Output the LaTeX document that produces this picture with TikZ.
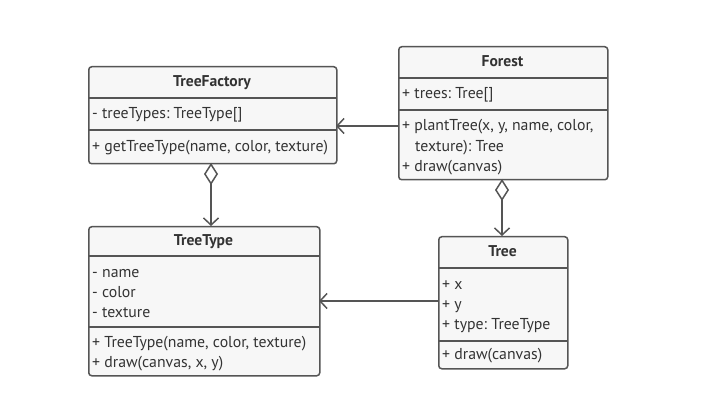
\documentclass[tikz,border=0pt]{standalone}
\usepackage{fontspec}
\setmainfont{PT Sans}
\frenchspacing
\usetikzlibrary{arrows.meta}
\definecolor{ln}{HTML}{555555}
\definecolor{tx}{HTML}{333333}
\definecolor{bx}{HTML}{F7F7F7}
\begin{document}
\begin{tikzpicture}[x=1pt,y=-1pt,
  classbox/.style={draw=ln,fill=bx,line width=1.5pt,rounded corners=3pt,anchor=north west,inner sep=0pt},
  divider/.style={draw=ln,line width=1.5pt},
  hdr/.style={anchor=base,inner sep=0pt,text=tx,font=\fontsize{15.6}{18}\selectfont\bfseries},
  row/.style={anchor=base west,inner sep=0pt,text=tx,font=\fontsize{15.8}{18}\selectfont},
  conn/.style={draw=ln,line width=1.5pt},
  assoc/.style={conn,-{Straight Barb[length=7pt,width=15pt,line width=1.5pt]}},
  aggr/.style={conn,{Diamond[fill=white,length=22pt,width=14pt,line width=1.5pt]}-{Straight Barb[length=7pt,width=15pt,line width=1.5pt]}}
]
\useasboundingbox (0,0) rectangle (727,419);
\fill[white] (0,0) rectangle (727,419);

% TreeFactory
\node[classbox,minimum width=248pt,minimum height=97pt] (tf) at (88,66) {};
\draw[divider] (88,98) -- (336,98);
\draw[divider] (88,130) -- (336,130);
\node[hdr] (tfh) at (212,87) {TreeFactory};
\node[row] (tf1) at (92,119) {- treeTypes: TreeType[]};
\node[row] (tf2) at (92,152) {+ getTreeType(name, color, texture)};

% Forest
\node[classbox,minimum width=209pt,minimum height=133pt] (fo) at (398,46) {};
\draw[divider] (398,78) -- (607,78);
\draw[divider] (398,110) -- (607,110);
\node[hdr] (foh) at (502.5,67) {Forest};
\node[row] (fo1) at (402,99) {+ trees: Tree[]};
\node[row] (fo2) at (402,131) {+ plantTree(x, y, name, color,};
\node[row] (fo3) at (415,152) {texture): Tree};
\node[row] (fo4) at (402,172) {+ draw(canvas)};

% TreeType
\node[classbox,minimum width=231pt,minimum height=149pt] (tt) at (88,226) {};
\draw[divider] (88,256) -- (319,256);
\draw[divider] (88,327) -- (319,327);
\node[hdr] (tth) at (203.5,246) {TreeType};
\node[row] (tt1) at (92,277) {- name};
\node[row] (tt2) at (92,297) {- color};
\node[row] (tt3) at (92,317) {- texture};
\node[row] (tt4) at (92,347) {+ TreeType(name, color, texture)};
\node[row] (tt5) at (92,367) {+ draw(canvas, x, y)};

% Tree
\node[classbox,minimum width=129pt,minimum height=132pt] (tr) at (438,236) {};
\draw[divider] (438,268) -- (567,268);
\draw[divider] (438,341) -- (567,341);
\node[hdr] (trh) at (502.5,257) {Tree};
\node[row] (tr1) at (442,289) {+ x};
\node[row] (tr2) at (442,309) {+ y};
\node[row] (tr3) at (442,329) {+ type: TreeType};
\node[row] (tr4) at (442,359) {+ draw(canvas)};

% connectors
\coordinate (fol) at (398,126);
\coordinate (tfr) at (336,126);
\draw[assoc] (fol) -- (tfr);
\coordinate (tfb) at (211,163);
\coordinate (ttt) at (211,226);
\draw[aggr] (tfb) -- (ttt);
\coordinate (fob) at (502,179);
\coordinate (trt) at (502,236);
\draw[aggr] (fob) -- (trt);
\coordinate (trl) at (438,301);
\coordinate (ttr) at (319,301);
\draw[assoc] (trl) -- (ttr);
\end{tikzpicture}
\end{document}
